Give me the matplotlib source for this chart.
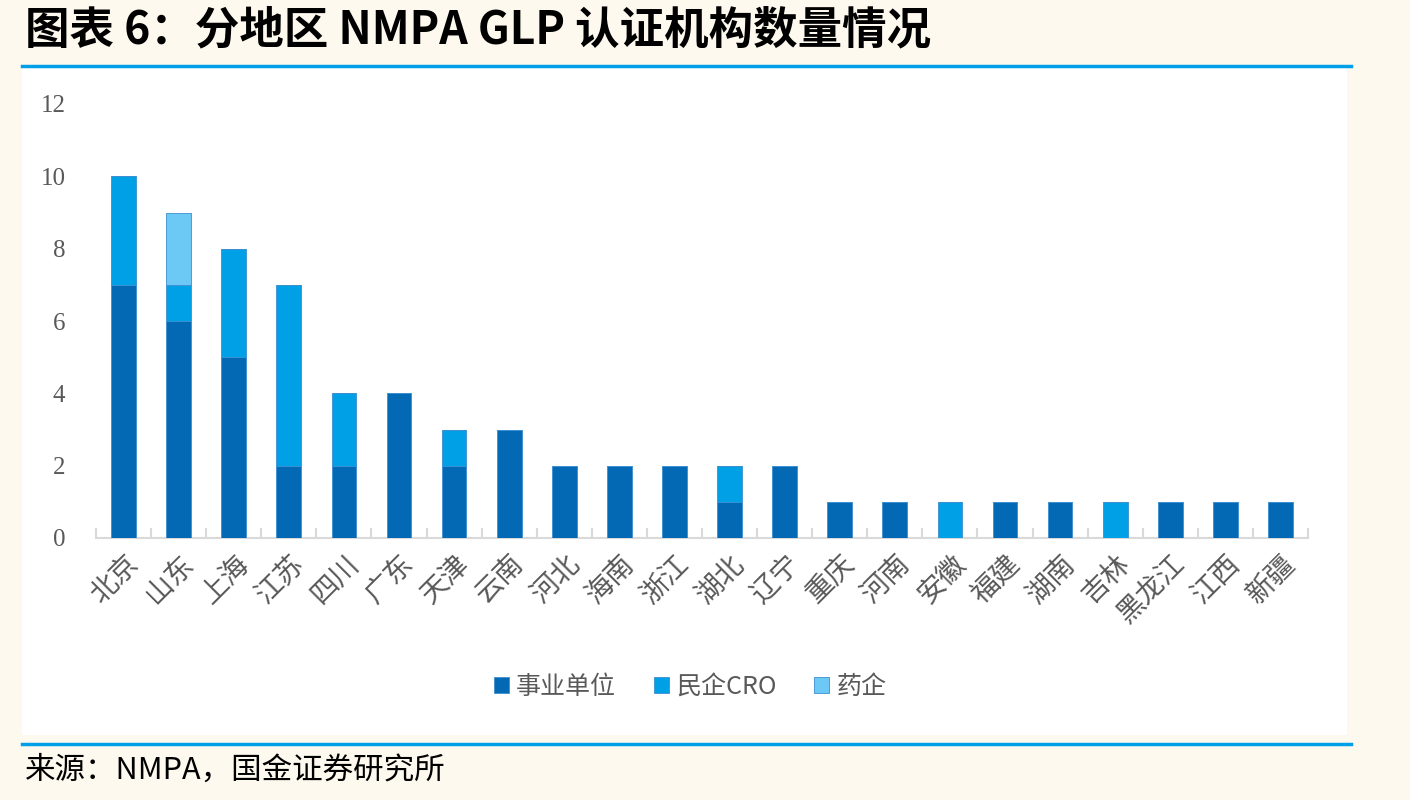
import numpy as np
import matplotlib.pyplot as plt
from matplotlib.patches import Rectangle
from matplotlib.lines import Line2D

plt.rcParams['font.family'] = ['Noto Sans CJK SC', 'DejaVu Sans']

regions = ["北京", "山东", "上海", "江苏", "四川", "广东", "天津", "云南", "河北", "海南", "浙江",
           "湖北", "辽宁", "重庆", "河南", "安徽", "福建", "湖南", "吉林", "黑龙江", "江西", "新疆"]
public_inst = [7, 6, 5, 2, 2, 4, 2, 3, 2, 2, 2, 1, 2, 1, 1, 0, 1, 1, 0, 1, 1, 1]
private_cro = [3, 1, 3, 5, 2, 0, 1, 0, 0, 0, 0, 1, 0, 0, 0, 1, 0, 0, 1, 0, 0, 0]
pharma = [0, 2, 0, 0, 0, 0, 0, 0, 0, 0, 0, 0, 0, 0, 0, 0, 0, 0, 0, 0, 0, 0]
series_names = ["事业单位", "民企CRO", "药企"]
colors = ["#0469B4", "#00A0E6", "#6CC8F5"]

bg = "#FEF9EE"
line_blue = "#00A0E9"
grey = "#595959"

fig = plt.figure(figsize=(14.1, 8), dpi=100)
fig.patch.set_facecolor(bg)

# white panel
fig.add_artist(Rectangle((22 / 1410, 1 - 735 / 800), (1347 - 22) / 1410, (735 - 67) / 800,
                         transform=fig.transFigure, facecolor="white", edgecolor="none", zorder=0))
# blue rules
fig.add_artist(Line2D([22 / 1410, 1351 / 1410], [1 - 66 / 800, 1 - 66 / 800],
                      transform=fig.transFigure, color=line_blue, lw=2.5))
fig.add_artist(Line2D([22 / 1410, 1351 / 1410], [1 - 744 / 800, 1 - 744 / 800],
                      transform=fig.transFigure, color=line_blue, lw=2.5))

fig.text(25 / 1410, 1 - 30 / 800, "图表 6：分地区 NMPA GLP 认证机构数量情况",
         fontsize=32, fontweight="bold", va="center", ha="left", color="black")
fig.text(25 / 1410, 1 - 770 / 800, "来源：NMPA，国金证券研究所",
         fontsize=22, va="center", ha="left", color="black")

ax = fig.add_axes([96 / 1410, 1 - 538 / 800, (1308 - 96) / 1410, (538 - 104) / 800])
ax.set_facecolor("white")

x = np.arange(len(regions))
w = 0.45
bottom = np.zeros(len(regions))
for vals, name, c in zip([public_inst, private_cro, pharma], series_names, colors):
    vals = np.array(vals, dtype=float)
    ax.bar(x, vals, w, bottom=bottom, color=c, label=name, zorder=3,
           edgecolor="#3C8FD0", linewidth=0.6)
    bottom += vals

ax.set_xlim(-0.5, len(regions) - 0.5)
ax.set_ylim(0, 12)
ax.set_yticks(range(0, 13, 2))
ax.set_yticklabels([str(v) for v in range(0, 13, 2)], family="Liberation Serif",
                   fontsize=18, color=grey)
ax.tick_params(axis="y", length=0, pad=22)

ax.set_xticks(x)
ax.set_xticklabels(regions, rotation=45, ha="right", rotation_mode="anchor",
                   fontsize=20, fontweight="light", color=grey)
ax.tick_params(axis="x", which="major", length=0, pad=8)
ax.set_xticks(np.arange(-0.5, len(regions), 1), minor=True)
ax.tick_params(axis="x", which="minor", direction="in", length=7, width=1.5, color="#D9D9D9")

for s in ["top", "right", "left"]:
    ax.spines[s].set_visible(False)
ax.spines["bottom"].set_color("#D9D9D9")
ax.spines["bottom"].set_linewidth(1.5)

leg = fig.legend(loc="center", bbox_to_anchor=(690 / 1410, 1 - 687 / 800), ncol=3,
                 frameon=False, prop={"size": 18, "weight": "light"},
                 handlelength=0.6, handleheight=0.6,
                 handletextpad=0.3, columnspacing=1.5)
for t in leg.get_texts():
    t.set_color(grey)

fig.savefig("out.png", dpi=100, facecolor=bg)
